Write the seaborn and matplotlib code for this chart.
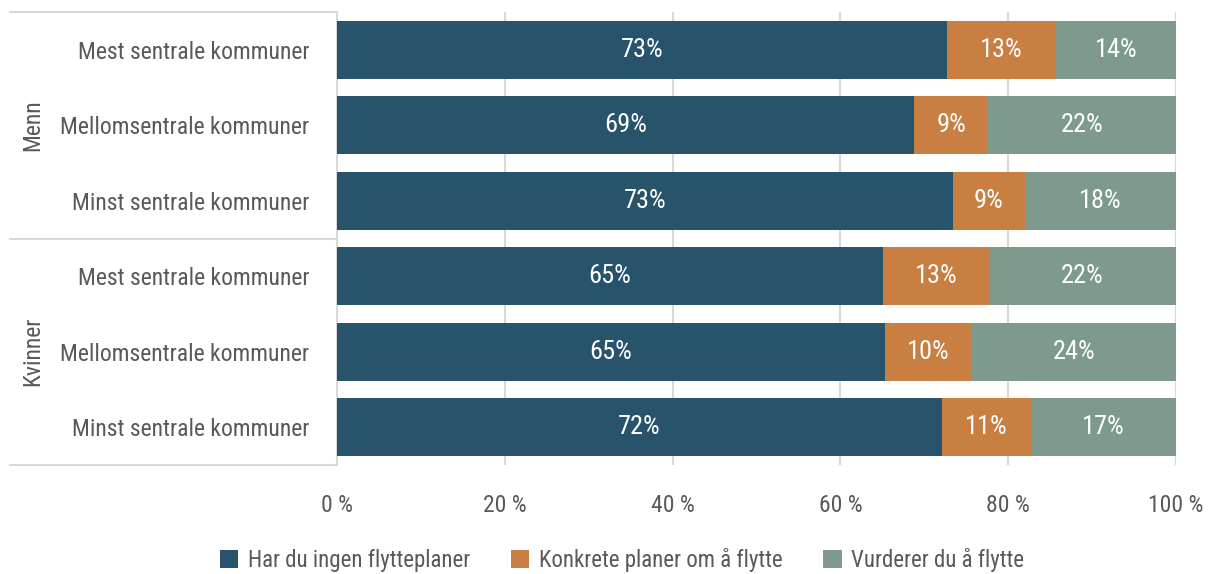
import matplotlib
matplotlib.use('Agg')
import matplotlib.pyplot as plt
from matplotlib import font_manager
from matplotlib.patches import Patch
from matplotlib.transforms import blended_transform_factory
import pandas as pd
import seaborn as sns

grupper = ['Menn', 'Menn', 'Menn', 'Kvinner', 'Kvinner', 'Kvinner']
kommuner = ['Mest sentrale kommuner', 'Mellomsentrale kommuner', 'Minst sentrale kommuner',
            'Mest sentrale kommuner', 'Mellomsentrale kommuner', 'Minst sentrale kommuner']
ingen_planer = [72.7, 68.8, 73.4, 65.1, 65.3, 72.1]
konkrete_planer = [13.0, 8.8, 8.6, 12.6, 10.4, 10.6]
vurderer = [14.3, 22.4, 18.0, 22.3, 24.3, 17.3]
serier = ['Har du ingen flytteplaner', 'Konkrete planer om å flytte', 'Vurderer du å flytte']
farger = ['#28546B', '#C97F42', '#7E9A8C']
x_ticks = [0, 20, 40, 60, 80, 100]

tekstfarge = '#595959'
linjefarge = '#D9D9D9'

sns.set_style('white')
tilgjengelig = {f.name for f in font_manager.fontManager.ttflist}
fonter = [f for f in ['Roboto Condensed', 'Liberation Sans Narrow', 'DejaVu Sans'] if f in tilgjengelig]
plt.rcParams['font.family'] = fonter + ['DejaVu Sans']

rader = [f'{g}|{k}' for g, k in zip(grupper, kommuner)]
df = pd.DataFrame({'rad': rader, serier[0]: ingen_planer, serier[1]: konkrete_planer, serier[2]: vurderer})

fig = plt.figure(figsize=(12.11, 5.74), dpi=100)
ax = fig.add_axes([337 / 1211, 1 - 465 / 574, (1176 - 337) / 1211, (465 - 12) / 574])

venstre = [0.0] * len(rader)
for serie, farge in zip(serier, farger):
    sns.barplot(data=df, y='rad', x=serie, color=farge, left=venstre, width=0.77,
                saturation=1, ax=ax, edgecolor='none', zorder=3)
    bars = ax.containers[-1]
    ax.bar_label(bars, labels=[f'{v:.0f}%' for v in df[serie]], label_type='center',
                 color='white', fontsize=19)
    venstre = [a + b for a, b in zip(venstre, df[serie])]

ax.set_xlim(0, 100)
ax.set_ylim(5.5, -0.5)
ax.set_xticks(x_ticks)
ax.set_xticklabels([f'{t} %' for t in x_ticks])
ax.set_yticks(range(len(rader)))
ax.set_yticklabels(kommuner)
ax.set_xlabel('')
ax.set_ylabel('')
ax.grid(axis='x', color=linjefarge, linewidth=1.5, zorder=0)
ax.tick_params(axis='x', length=4, color=linjefarge, width=1.5, pad=17, labelsize=17, labelcolor=tekstfarge)
ax.tick_params(axis='y', length=0, pad=20, labelsize=17, labelcolor=tekstfarge)
for side in ['top', 'right', 'bottom']:
    ax.spines[side].set_visible(False)
ax.spines['left'].set_color(linjefarge)
ax.spines['left'].set_linewidth(1.5)

# gruppeskiller og gruppenavn til venstre
trans = blended_transform_factory(fig.transFigure, ax.transData)
for y in [-0.5, 2.5, 5.5]:
    ax.plot([10 / 1211, 337 / 1211], [y, y], transform=trans, color=linjefarge,
            linewidth=1.5, clip_on=False)
for navn, midt in [('Menn', 1), ('Kvinner', 4)]:
    ax.text(33 / 1211, midt, navn, transform=trans, rotation=90, ha='center', va='center',
            fontsize=17, color=tekstfarge)

handles = [Patch(facecolor=f, edgecolor='none') for f in farger]
fig.legend(handles, serier, loc='center', bbox_to_anchor=(622 / 1211, 1 - 560 / 574), ncol=3,
           frameon=False, fontsize=16.5, labelcolor=tekstfarge, handlelength=0.8, handleheight=0.8,
           handletextpad=0.4, columnspacing=1.8)

fig.savefig('out.png', dpi=100)
